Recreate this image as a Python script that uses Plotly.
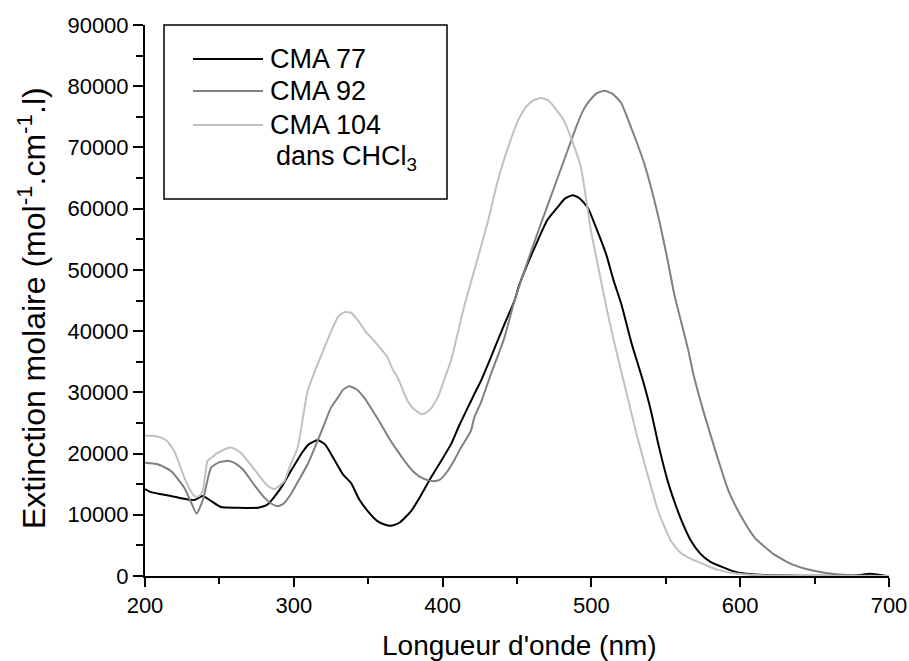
import plotly.graph_objects as go

# CMA 77 (black)
x77 = [200, 204, 210, 217.5, 228.7, 233, 238.8, 244.4, 251, 262, 276, 282.5, 291.4, 298, 302.6, 306, 310, 316, 321, 327, 333, 338.4, 344, 349.7, 356, 361, 365.3, 371, 378.8, 385, 392.2, 399, 405.6, 411, 416.9, 421.3, 426, 431.4, 441.5, 448.2, 451.5, 458, 463.8, 470, 477.2, 482, 487.4, 492, 497.5, 503, 510, 515, 520, 527, 534.5, 540, 545, 551.3, 556, 561, 567, 573, 580, 589, 595, 600, 610, 620, 640, 660, 675, 682, 687, 692, 697, 700]
y77 = [14200, 13700, 13400, 13070, 12500, 12400, 13070, 12250, 11270, 11160, 11160, 11700, 14400, 17150, 19000, 20300, 21500, 22200, 21500, 19100, 16600, 15200, 12500, 10600, 9000, 8400, 8200, 8700, 10600, 13000, 16100, 18800, 21500, 24500, 27500, 29700, 32000, 35100, 41100, 44900, 47500, 51500, 54700, 58000, 60200, 61600, 62200, 61700, 60200, 57000, 52500, 48200, 44500, 38000, 32000, 27000, 21500, 15500, 12000, 8800, 5700, 3700, 2300, 1360, 800, 500, 250, 120, 50, 30, 60, 200, 380, 250, 50, 0]

# CMA 92 (medium gray)
x92 = [200, 208.5, 217.5, 226.4, 231, 234.7, 239, 244.4, 250, 256.7, 262, 266.7, 273, 280.2, 285, 289.2, 293, 298, 303, 309.3, 315, 320.5, 325, 329.5, 333, 337.3, 342, 347.4, 353, 358.6, 364, 369.8, 375, 381, 387, 393.3, 398, 403.4, 408, 412.4, 419, 421.3, 426, 432.5, 441.5, 448.2, 452.7, 458, 466, 475, 484, 490, 495, 500, 504, 508.7, 514, 519.9, 526.6, 535.6, 544.6, 551.3, 555.7, 564.7, 569, 575.9, 584.8, 592, 600.5, 610, 623, 635, 645, 656.5, 670, 685, 700]
y92 = [18500, 18250, 17150, 14400, 12000, 10200, 12500, 17700, 18600, 18800, 18200, 17150, 15000, 12800, 11800, 11400, 11800, 13350, 15500, 18250, 21500, 24800, 27500, 29100, 30400, 31000, 30500, 29100, 27000, 24800, 22500, 20400, 18600, 16900, 15900, 15500, 15700, 17150, 19000, 21000, 23700, 25900, 28500, 33000, 38900, 44900, 48200, 52000, 57500, 63500, 69500, 73500, 76300, 78000, 78900, 79250, 78800, 77300, 73300, 67300, 59100, 51500, 46000, 37300, 32500, 26400, 19300, 14000, 9800, 6200, 3500, 1900, 1100, 540, 200, 60, 0]

# CMA 104 (light gray)
x104 = [200, 205, 210.8, 215, 219.7, 226.4, 230, 233, 236, 238.8, 242, 245, 248.9, 256.7, 260, 264.5, 273.5, 282.5, 287, 293.6, 298, 302.6, 309.3, 315, 320.5, 326, 330, 334, 338.4, 343, 348, 354, 363, 366, 369.8, 376.5, 381, 386.6, 392, 397, 401, 406, 410, 415, 420, 430, 437, 444, 450.5, 456, 461, 466, 471, 476, 481.7, 487, 493, 499.7, 505, 510, 515, 520, 525, 530, 535, 539, 545, 553.5, 560, 567, 575.7, 585, 595, 605, 620, 650, 700]
y104 = [22900, 22900, 22600, 22000, 20400, 16100, 14200, 13100, 13000, 13900, 18800, 19400, 20100, 21000, 20800, 20100, 17400, 14700, 14200, 15500, 18300, 21000, 30200, 34000, 37300, 40500, 42400, 43100, 43000, 41800, 40000, 38400, 35700, 34000, 32400, 28600, 27200, 26400, 27300, 29300, 32000, 35500, 39500, 44500, 48800, 57500, 64500, 70000, 74300, 76600, 77700, 78060, 77700, 76300, 74300, 71100, 66700, 56400, 50000, 44000, 38500, 33500, 28500, 23500, 19000, 15500, 10500, 5700, 3800, 2800, 1900, 1000, 500, 250, 80, 20, 0]

series_names = ["CMA 77", "CMA 92", "CMA 104"]
series_colors = ["#000000", "#808080", "#c0c0c0"]
x_ticks = [200, 300, 400, 500, 600, 700]
y_ticks = [0, 10000, 20000, 30000, 40000, 50000, 60000, 70000, 80000, 90000]

FONT = "Liberation Sans, Arial, sans-serif"

fig = go.Figure()
for xs, ys, name, col in zip([x77, x92, x104], [y77, y92, y104], series_names, series_colors):
    fig.add_trace(go.Scatter(x=xs, y=ys, mode="lines", name=name,
                             line=dict(color=col, width=2, shape="spline", smoothing=0.5),
                             showlegend=False))

W, H = 909, 661
L, T, R, B = 145, 25, 20, 85
pw, ph = W - L - R, H - T - B

def px(xp):
    return (xp - 144) / pw

def py(yp):
    return (575 - yp) / ph

shapes = [dict(type="rect", xref="paper", yref="paper",
               x0=px(163), x1=px(446), y0=py(198), y1=py(24),
               line=dict(color="black", width=1.5), fillcolor="white", layer="above")]
annotations = []
legend_y = [58, 90, 124]
for yy, name, col in zip(legend_y, series_names, series_colors):
    shapes.append(dict(type="line", xref="paper", yref="paper",
                       x0=px(192), x1=px(262), y0=py(yy), y1=py(yy),
                       line=dict(color=col, width=2), layer="above"))
    annotations.append(dict(xref="paper", yref="paper", x=px(267), y=py(yy),
                            text=name, showarrow=False, xanchor="left", yanchor="middle",
                            font=dict(family=FONT, size=27, color="black")))
annotations.append(dict(xref="paper", yref="paper", x=px(273), y=py(157),
                        text="dans CHCl<sub>3</sub>", showarrow=False, xanchor="left", yanchor="middle",
                        font=dict(family=FONT, size=27, color="black")))
# axis titles
annotations.append(dict(xref="paper", yref="paper", x=px(518), y=py(644),
                        text="Longueur d'onde (nm)", showarrow=False, xanchor="center", yanchor="middle",
                        font=dict(family=FONT, size=28, color="black")))
annotations.append(dict(xref="paper", yref="paper", x=px(31), y=py(307),
                        text="Extinction molaire (mol<sup>-1</sup>.cm<sup>-1</sup>.l)", textangle=-90,
                        showarrow=False, xanchor="center", yanchor="middle",
                        font=dict(family=FONT, size=32, color="black")))

fig.update_layout(
    width=W, height=H,
    margin=dict(l=L, r=R, t=T, b=B, pad=0),
    paper_bgcolor="white", plot_bgcolor="white",
    font=dict(family=FONT, color="black"),
    shapes=shapes, annotations=annotations,
)
fig.update_xaxes(range=[200, 700], tickvals=x_ticks, ticktext=[str(v) for v in x_ticks],
                 ticks="outside", ticklen=9, tickwidth=2, automargin=False,
                 tickcolor="black", showline=True, linecolor="black", linewidth=2,
                 showgrid=False, zeroline=False, tickfont=dict(size=22, family=FONT),
                 minor=dict(dtick=50, ticks="outside", ticklen=6, tickwidth=2, tickcolor="black"))
fig.update_yaxes(range=[0, 90000], tickvals=y_ticks, ticktext=[str(v) for v in y_ticks],
                 ticks="outside", ticklen=10, tickwidth=2, automargin=False,
                 tickcolor="black", showline=True, linecolor="black", linewidth=2,
                 showgrid=False, zeroline=False, tickfont=dict(size=22, family=FONT),
                 minor=dict(dtick=5000, ticks="outside", ticklen=7, tickwidth=2, tickcolor="black"))

fig.write_html("out.html", config={"displayModeBar": False},
               post_script="document.body.style.margin='0';document.body.style.overflow='hidden';")
